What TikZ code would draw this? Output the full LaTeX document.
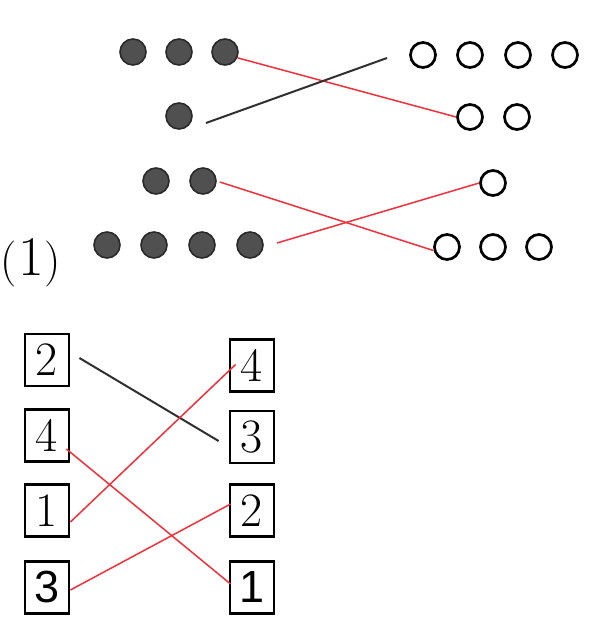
\documentclass[tikz,border=0pt]{standalone}
\usepackage{fontspec}
\newfontfamily\digitsans{Liberation Sans}
\usetikzlibrary{calc}
\definecolor{dotfill}{HTML}{505050}
\definecolor{dotrim}{HTML}{2A2A2A}
\definecolor{linkred}{HTML}{F0303A}
\definecolor{linkdark}{HTML}{303030}
\tikzset{
  fulldot/.style={circle, minimum size=26pt, inner sep=0pt, fill=dotfill, draw=dotrim, line width=1.6pt},
  opendot/.style={circle, minimum size=25pt, inner sep=0pt, fill=white, draw=black, line width=2.7pt},
  numbox/.style={draw=black, line width=2.8pt, minimum width=44pt, minimum height=52pt, inner sep=0pt,
    font=\fontsize{48}{48}\selectfont},
  redlink/.style={draw=linkred, line width=1.5pt},
  darklink/.style={draw=linkdark, line width=2pt},
}
\begin{document}
\begin{tikzpicture}[x=1pt, y=-1pt]
\useasboundingbox (0,0) rectangle (594,630);

% part (1): dots
\node[fulldot] (d1a) at (133,52) {};
\node[fulldot] (d1b) at (179,52) {};
\node[fulldot] (d1c) at (225,52) {};
\node[fulldot] (d2a) at (179,116) {};
\node[fulldot] (d3a) at (156,181) {};
\node[fulldot] (d3b) at (203,181) {};
\node[fulldot] (d4a) at (107,245) {};
\node[fulldot] (d4b) at (154,245) {};
\node[fulldot] (d4c) at (202,245) {};
\node[fulldot] (d4d) at (250,245) {};

\node[opendot] (o1a) at (423,55) {};
\node[opendot] (o1b) at (470,55) {};
\node[opendot] (o1c) at (518,55) {};
\node[opendot] (o1d) at (565,55) {};
\node[opendot] (o2a) at (470,117) {};
\node[opendot] (o2b) at (517,117) {};
\node[opendot] (o3a) at (493,183) {};
\node[opendot] (o4a) at (447,247) {};
\node[opendot] (o4b) at (493,247) {};
\node[opendot] (o4c) at (539,247) {};

\node[anchor=base west, inner sep=0pt] (lab) at (0.5,275)
  {\fontsize{46}{46}\selectfont(\hspace{2pt}\fontsize{56}{56}\selectfont1\fontsize{46}{46}\selectfont)};

\coordinate (k1) at ($(d2a)+(27,7)$);
\coordinate (k2) at ($(o1a)+(-36,3)$);
\coordinate (k3) at ($(d4d)+(27,-2)$);

\draw[redlink] (d1c.-25) -- (o2a.west);
\draw[darklink] (k1) -- (k2);
\draw[redlink] ($(d3b.east)+(3,1)$) -- (o4a.-165);
\draw[redlink] (k3) -- (o3a.west);

% part (2): number boxes
\node[numbox] (l2) at (47,360) {2};
\node[numbox] (l4) at (47,435.5) {4};
\node[numbox] (l1) at (47,510.5) {1};
\node[numbox, font=\digitsans\fontsize{45}{45}\selectfont] (l3) at (47,587.5) {3};

\node[numbox] (r4) at (252,365.5) {4};
\node[numbox] (r3) at (252,437) {3};
\node[numbox] (r2) at (252,510.5) {2};
\node[numbox, font=\digitsans\fontsize{45}{45}\selectfont] (r1) at (252,587.5) {1};

\draw[darklink] ($(l2.east)+(9,-2)$) -- ($(r3.west)+(-10,4)$);
\draw[redlink] ($(l1.east)+(0,11.5)$) -- ($(r4.west)+(7,-1)$);
\draw[redlink] ($(l4.east)+(-4,13.5)$) -- ($(r1.west)+(2,-3.5)$);
\draw[redlink] ($(l3.east)+(0,2.5)$) -- ($(r2.west)+(2,-6.5)$);
\end{tikzpicture}
\end{document}
